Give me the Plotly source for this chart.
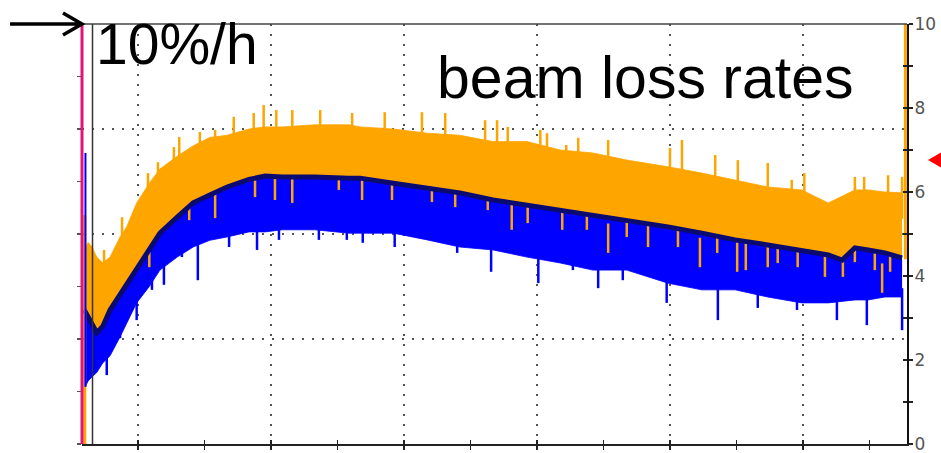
import plotly.graph_objects as go

# time axis in hours (each bottom tick = 1 h)
time_h = [-0.81, -0.75, -0.69, -0.62, -0.53, -0.42, -0.27, -0.17, -0.02, 0.17,
          0.33, 0.59, 0.83, 1.08, 1.34, 1.67, 1.91, 2.17, 2.66, 3.17,
          3.34, 3.84, 4.35, 4.84, 5.34, 5.85, 6.35, 6.84, 7.35, 7.97,
          8.48, 8.98, 9.47, 9.98, 10.38, 10.59, 10.78, 10.98, 11.23, 11.49]
# upper envelope of the orange loss-rate signal
orange_top = [4.6, 4.8, 4.69, 4.45, 4.31, 4.45, 4.93, 5.17, 5.74, 6.21,
              6.55, 6.85, 7.1, 7.3, 7.35, 7.5, 7.55, 7.55, 7.6, 7.6,
              7.55, 7.5, 7.4, 7.35, 7.2, 7.2, 7.0, 6.93, 6.76, 6.6,
              6.45, 6.29, 6.12, 6.05, 5.74, 5.9, 6.05, 6.05, 6.0, 5.98]
# dark-blue (navy) averaged loss rate
navy_mid = [3.2, 3.0, 2.85, 2.65, 2.8, 3.19, 3.55, 3.83, 4.2, 4.65,
            5.02, 5.4, 5.74, 5.93, 6.12, 6.3, 6.38, 6.36, 6.36, 6.33,
            6.33, 6.21, 6.1, 5.98, 5.81, 5.69, 5.57, 5.45, 5.33, 5.17,
            5.02, 4.86, 4.74, 4.62, 4.5, 4.38, 4.67, 4.62, 4.55, 4.43]
# lower envelope of the blue loss-rate signal
blue_bottom = [1.3, 1.5, 1.6, 1.7, 1.93, 2.1, 2.55, 2.88, 3.36, 3.75,
               4.14, 4.45, 4.69, 4.85, 4.93, 5.05, 5.05, 5.1, 5.1, 5.02,
               5.02, 5.02, 4.86, 4.69, 4.62, 4.45, 4.31, 4.14, 4.14, 3.83,
               3.67, 3.67, 3.5, 3.36, 3.36, 3.4, 3.43, 3.43, 3.5, 3.5]
# prominent upward spikes of the orange signal
orange_spike_t = [-0.51, -0.24, 0.15, 0.30, 0.54, 0.62, 0.93, 1.16, 1.44, 1.74,
                  1.89, 2.08, 2.32, 2.74, 3.22, 3.71, 4.27, 4.62, 5.22, 5.40,
                  5.56, 6.05, 6.15, 6.44, 6.62, 7.07, 8.00, 8.18, 8.68, 9.02,
                  9.47, 9.83, 10.02, 10.78, 10.92, 11.28, 11.49]
orange_spike_v = [4.62, 5.4, 6.45, 6.71, 7.07, 7.31, 7.43, 7.48, 7.79, 7.88,
                  8.07, 7.95, 7.95, 7.95, 7.88, 7.9, 7.9, 7.88, 7.71, 7.71,
                  7.55, 7.48, 7.4, 7.12, 7.29, 7.24, 7.05, 7.24, 6.88, 6.76,
                  6.69, 6.29, 6.45, 6.36, 6.36, 6.4, 6.36]
# prominent downward spikes of the blue signal
blue_spike_t = [-0.47, -0.27, -0.02, 0.21, 0.39, 0.66, 0.90, 1.37, 1.79, 2.12,
                2.72, 3.14, 3.38, 3.86, 4.80, 5.31, 6.02, 6.54, 6.92, 7.29,
                7.95, 8.72, 9.32, 9.91, 10.51, 10.96, 11.49]
blue_spike_v = [1.64, 2.52, 2.95, 3.67, 3.79, 4.45, 3.9, 4.69, 4.62, 4.86,
                4.86, 4.86, 4.79, 4.69, 4.55, 4.1, 3.83, 4.14, 3.71, 3.9,
                3.36, 2.95, 3.24, 3.19, 2.95, 2.83, 2.71]
# orange readings that dip below the navy average (lowest point of each dip)
orange_dip_t = [0.17, 0.39, 0.77, 1.16, 1.76, 2.06, 2.32, 3.02, 3.37, 3.82,
                4.42, 4.77, 5.26, 5.62, 5.86, 6.38, 6.75, 7.07, 7.35, 7.67,
                8.12, 8.45, 8.71, 9.01, 9.14, 9.47, 9.62, 9.92, 10.33, 10.60,
                10.78, 11.08, 11.19, 11.31]
orange_dip_v = [4.21, 5.1, 5.33, 5.38, 5.88, 5.81, 5.74, 6.05, 5.81, 5.81,
                5.76, 5.64, 5.57, 5.1, 5.26, 5.1, 5.1, 4.55, 4.93, 4.69,
                4.69, 4.21, 4.55, 4.1, 4.14, 4.21, 4.31, 4.21, 3.98, 3.98,
                4.33, 4.14, 3.6, 4.1]
# isolated spikes at the start and end of the record
start_t = -0.80
start_orange = [0.0, 5.45]
start_blue = [1.36, 6.93]
end_t = 11.54
end_orange = [4.4, 10.0]

right_ticks = [0, 2, 4, 6, 8, 10]

ORANGE = "#ffa500"
BLUE = "#0000ff"
NAVY = "#0a0a70"
SPIKE_LEN = 1.0
DIP_LEN = 0.7

X0, X1 = -0.842, 11.564


def segments(ts, vs, length):
    xs, ys = [], []
    for t, v in zip(ts, vs):
        xs += [t, t, None]
        ys += [v, v + length, None]
    return xs, ys


def line_trace(x, y, color, width, **kw):
    return go.Scatter(x=x, y=y, mode="lines", line=dict(width=width, color=color),
                      yaxis="y2", showlegend=False, hoverinfo="skip", **kw)


fig = go.Figure()
# orange band
fig.add_trace(line_trace(time_h, orange_top, ORANGE, 0.8))
fig.add_trace(line_trace(time_h, navy_mid, ORANGE, 0, fill="tonexty", fillcolor=ORANGE))
ox, oy = segments(orange_spike_t, orange_spike_v, -SPIKE_LEN)
fig.add_trace(line_trace(ox, oy, ORANGE, 2.5))
# blue band
fig.add_trace(line_trace(time_h, blue_bottom, BLUE, 0.8))
fig.add_trace(line_trace(time_h, navy_mid, BLUE, 0, fill="tonexty", fillcolor=BLUE))
bx, by = segments(blue_spike_t, blue_spike_v, SPIKE_LEN)
fig.add_trace(line_trace(bx, by, BLUE, 2.5))
dx, dy = segments(orange_dip_t, orange_dip_v, DIP_LEN)
fig.add_trace(line_trace(dx, dy, ORANGE, 2.5))
# navy average line
fig.add_trace(line_trace(time_h, navy_mid, NAVY, 5))
fig.add_trace(line_trace([start_t, start_t], start_orange, ORANGE, 3))
fig.add_trace(line_trace([start_t + 0.01, start_t + 0.01], start_blue, BLUE, 2))
fig.add_trace(line_trace([end_t, end_t], end_orange, ORANGE, 3))
# invisible anchors for the left grid axis and the inside-tick overlay axes
fig.add_trace(go.Scatter(x=[X0], y=[0], mode="markers", marker=dict(opacity=0),
                         showlegend=False, hoverinfo="skip"))
fig.add_trace(go.Scatter(x=[X0], y=[0], xaxis="x2", yaxis="y", mode="markers",
                         marker=dict(opacity=0), showlegend=False, hoverinfo="skip"))
fig.add_trace(go.Scatter(x=[X0], y=[0], xaxis="x", yaxis="y3", mode="markers",
                         marker=dict(opacity=0), showlegend=False, hoverinfo="skip"))

grid = dict(showgrid=True, gridcolor="#555555", gridwidth=2, griddash="2px,8px")
minor_ticks = dict(dtick=1, tick0=0, ticklen=4, tickwidth=1.5, tickcolor="#222", showgrid=False)

# plot area at px 82..907 x 24..444 of the 941x453 page (body margin removed below)
fig.update_layout(
    template="none",
    width=941, height=453,
    margin=dict(l=82, r=34, t=24, b=9, autoexpand=False),
    paper_bgcolor="white", plot_bgcolor="white",
    xaxis=dict(range=[X0, X1], domain=[0, 1], tick0=0, dtick=2, ticks="outside", ticklen=4,
               tickwidth=1.5, tickcolor="#222", showticklabels=False, showline=True,
               linecolor="#222", linewidth=2, zeroline=False, automargin=False,
               minor=dict(ticks="outside", **minor_ticks), **grid),
    xaxis2=dict(range=[X0, X1], overlaying="x", anchor="y", side="bottom", tick0=0, dtick=1,
                ticks="inside", ticklen=4, tickwidth=1.5, tickcolor="#222",
                showticklabels=False, showgrid=False, showline=False, zeroline=False,
                automargin=False),
    yaxis=dict(range=[0, 8], domain=[0, 1], tick0=0, dtick=2, ticks="outside", ticklen=4,
               tickwidth=1.5, tickcolor="#555", showticklabels=False, showline=False,
               zeroline=False, automargin=False,
               minor=dict(ticks="outside", **{**minor_ticks, "tickcolor": "#555"}), **grid),
    yaxis2=dict(range=[0, 10], overlaying="y", side="right", tickvals=right_ticks,
                ticks="outside", ticklen=4, tickwidth=1.5, tickcolor="#222",
                showline=True, linecolor="#111", linewidth=2, showgrid=False, zeroline=False,
                automargin=False, ticklabelstandoff=-2, ticklabeloverflow="allow",
                tickfont=dict(family="DejaVu Sans", size=17, color="#555"),
                minor=dict(ticks="outside", **minor_ticks)),
    yaxis3=dict(range=[0, 10], overlaying="y", side="right", anchor="x", dtick=1, tick0=0,
                ticks="inside", ticklen=4, tickwidth=1.5, tickcolor="#222",
                showticklabels=False, showgrid=False, showline=False, zeroline=False,
                automargin=False),
)


def px2x(px):
    return (px - 82) / 825.0


def py2y(py):
    return (444 - py) / 420.0


shapes = [
    dict(type="line", xref="paper", yref="paper", x0=0, x1=1, y0=1, y1=1,
         line=dict(color="#444", width=1.5), layer="above"),
    dict(type="line", xref="x", yref="paper", x0=-0.684, x1=-0.684, y0=0, y1=1,
         line=dict(color="#333", width=1.5), layer="above"),
    dict(type="line", xref="paper", yref="paper", x0=0, x1=0, y0=0, y1=1,
         line=dict(color="#e0147a", width=3), layer="above"),
    dict(type="path", xref="paper", yref="paper",
         path=f"M {px2x(10)} {py2y(24)} L {px2x(82)} {py2y(24)} "
              f"M {px2x(63)} {py2y(13)} L {px2x(82)} {py2y(24)} L {px2x(63)} {py2y(35)}",
         line=dict(color="black", width=3.5), layer="above"),
    dict(type="path", xref="paper", yref="paper",
         path=f"M {px2x(942)} {py2y(152)} L {px2x(928)} {py2y(160)} L {px2x(942)} {py2y(168)} Z",
         fillcolor="#ff0000", line=dict(width=0), layer="above"),
]
fig.update_layout(shapes=shapes)

fig.add_annotation(text="10%/h", xref="paper", yref="paper", x=px2x(94), y=py2y(44),
                   xanchor="left", yanchor="middle", showarrow=False,
                   font=dict(family="Liberation Sans", size=57, color="black"))
fig.add_annotation(text="beam loss rates", xref="paper", yref="paper", x=px2x(435), y=py2y(78),
                   xanchor="left", yanchor="middle", showarrow=False,
                   font=dict(family="Liberation Sans", size=59, color="black"))

fig.write_html(
    "out.html",
    config={"displayModeBar": False, "staticPlot": True},
    post_script="document.body.style.margin='0px';"
                "document.documentElement.style.overflow='hidden';"
                "document.body.style.overflow='hidden';",
)
